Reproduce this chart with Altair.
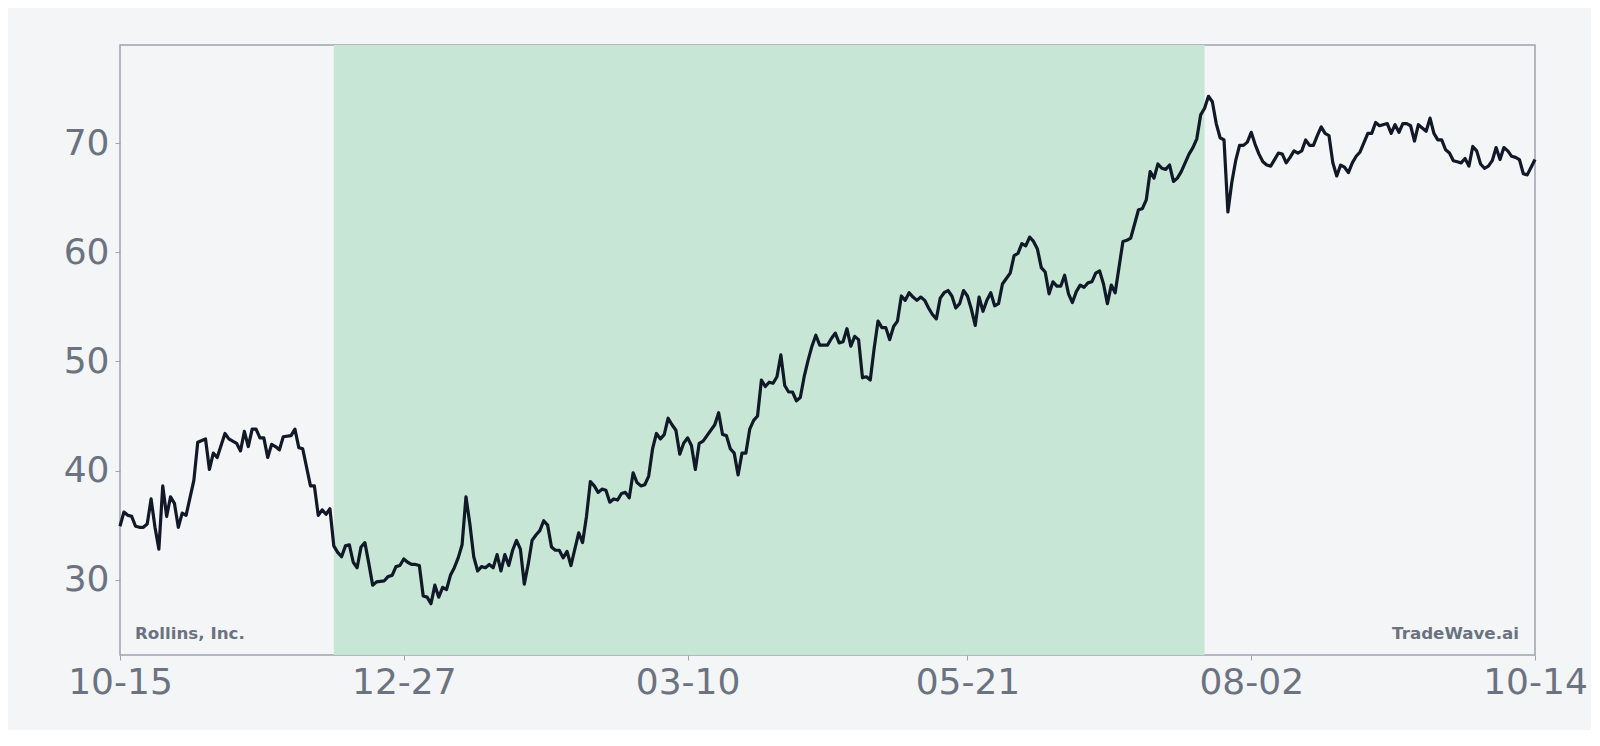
import altair as alt
import pandas as pd

# ---------------- data ----------------
start_date = "2024-10-15"
end_date = "2025-10-14"

day_offsets = [
    0, 1, 2, 3, 4, 5, 6, 7, 8, 9, 10, 11, 12, 13, 14, 15, 16, 17, 19, 20,
    22, 23, 24, 25, 27, 28, 30, 31, 32, 33, 34, 35, 36, 37, 38, 39, 40, 41, 42, 44,
    45, 46, 47, 49, 50, 51, 52, 53, 54, 55, 56, 57, 58, 59, 60, 61, 62, 63, 64, 65,
    66, 68, 69, 70, 71, 72, 73, 74, 75, 76, 77, 78, 79, 80, 81, 82, 83, 84, 85, 86,
    87, 88, 89, 90, 91, 92, 93, 94, 95, 96, 97, 98, 99, 100, 101, 102, 103, 104, 105, 106,
    107, 108, 109, 110, 111, 112, 113, 114, 115, 116, 117, 118, 119, 120, 121, 122, 123, 124, 125, 126,
    127, 128, 129, 130, 131, 132, 133, 134, 135, 136, 137, 138, 139, 140, 141, 142, 143, 144, 145, 146,
    147, 148, 149, 150, 151, 153, 154, 155, 156, 157, 158, 159, 160, 161, 162, 163, 164, 165, 166, 167,
    168, 169, 170, 171, 172, 173, 174, 175, 176, 177, 178, 179, 180, 181, 182, 183, 184, 185, 186, 187,
    188, 189, 190, 191, 192, 193, 194, 195, 196, 197, 198, 199, 200, 201, 202, 203, 204, 205, 206, 207,
    208, 209, 210, 211, 212, 213, 214, 215, 216, 217, 218, 219, 220, 221, 222, 223, 224, 225, 226, 227,
    228, 229, 230, 231, 232, 233, 234, 235, 236, 237, 238, 239, 240, 241, 242, 243, 244, 245, 246, 247,
    248, 249, 250, 251, 252, 253, 254, 255, 256, 258, 259, 260, 261, 262, 263, 264, 265, 266, 267, 268,
    269, 270, 271, 272, 273, 274, 275, 276, 277, 278, 279, 280, 281, 282, 283, 284, 285, 286, 287, 288,
    289, 290, 291, 292, 293, 294, 295, 296, 297, 298, 299, 300, 301, 302, 303, 304, 305, 306, 307, 308,
    309, 310, 311, 312, 313, 314, 315, 316, 317, 318, 319, 321, 322, 323, 324, 326, 327, 328, 329, 330,
    331, 332, 333, 334, 335, 336, 337, 338, 339, 340, 341, 342, 343, 344, 345, 346, 347, 348, 349, 350,
    351, 352, 353, 354, 355, 356, 357, 358, 359, 360, 361, 362, 363, 364,
]

prices = [
    34.9, 36.2, 35.9, 35.8, 34.9, 34.8, 34.8, 35.1, 37.4, 34.8, 32.8, 38.6, 35.8, 37.6, 37.0, 34.8, 36.1, 35.9, 39.1, 42.6,
    42.9, 40.1, 41.6, 41.2, 43.4, 42.9, 42.5, 41.8, 43.6, 42.2, 43.8, 43.8, 43.0, 43.0, 41.2, 42.4, 42.2, 41.9, 43.1, 43.2,
    43.8, 42.1, 42.0, 38.6, 38.6, 35.9, 36.4, 36.0, 36.5, 33.1, 32.5, 32.1, 33.1, 33.2, 31.6, 31.1, 33.0, 33.4, 31.5, 29.5,
    29.8, 29.9, 30.3, 30.4, 31.2, 31.3, 31.9, 31.6, 31.4, 31.4, 31.3, 28.5, 28.4, 27.8, 29.5, 28.4, 29.3, 29.1, 30.4, 31.1,
    32.0, 33.2, 37.6, 35.1, 32.1, 30.8, 31.2, 31.1, 31.4, 31.1, 32.3, 30.8, 32.3, 31.3, 32.7, 33.6, 32.8, 29.6, 31.4, 33.6,
    34.1, 34.5, 35.4, 35.0, 33.0, 32.7, 32.7, 32.0, 32.6, 31.3, 32.8, 34.3, 33.4, 35.8, 39.0, 38.6, 38.0, 38.3, 38.2, 37.1,
    37.4, 37.3, 37.9, 38.0, 37.5, 39.8, 38.9, 38.6, 38.7, 39.5, 42.0, 43.4, 42.9, 43.3, 44.8, 44.2, 43.7, 41.5, 42.5, 43.0,
    42.3, 40.1, 42.5, 42.7, 43.2, 44.2, 45.3, 43.3, 43.2, 42.0, 41.6, 39.6, 41.6, 41.6, 43.8, 44.6, 45.0, 48.3, 47.7, 48.1,
    48.0, 48.6, 50.6, 47.8, 47.2, 47.2, 46.4, 46.7, 48.6, 50.1, 51.4, 52.4, 51.5, 51.5, 51.5, 52.1, 52.6, 51.7, 51.8, 53.0,
    51.4, 52.3, 52.0, 48.5, 48.6, 48.3, 51.2, 53.7, 53.1, 53.1, 52.0, 53.2, 53.7, 56.0, 55.6, 56.3, 55.9, 55.6, 55.9, 55.6,
    54.9, 54.3, 53.9, 55.8, 56.3, 56.5, 56.0, 54.9, 55.3, 56.5, 56.0, 54.8, 53.3, 55.9, 54.6, 55.6, 56.3, 55.1, 55.3, 57.1,
    57.6, 58.1, 59.7, 59.9, 60.8, 60.6, 61.4, 61.0, 60.3, 58.6, 58.2, 56.2, 57.3, 56.9, 56.9, 57.9, 56.2, 55.4, 56.4, 57.0,
    56.8, 57.2, 57.3, 58.1, 58.3, 57.1, 55.3, 57.0, 56.3, 61.0, 61.1, 61.3, 62.6, 63.9, 64.0, 64.8, 67.4, 66.8, 68.1, 67.7,
    67.6, 68.0, 66.5, 66.8, 67.4, 68.2, 69.0, 69.6, 70.4, 72.6, 73.2, 74.3, 73.8, 71.8, 70.5, 70.3, 63.7, 66.4, 68.4, 69.8,
    69.8, 70.1, 71.0, 69.9, 69.0, 68.3, 68.0, 67.9, 68.5, 69.1, 69.0, 68.2, 68.7, 69.3, 69.1, 69.3, 70.3, 69.8, 69.8, 70.7,
    71.5, 70.9, 70.7, 68.2, 67.0, 68.0, 67.8, 67.3, 68.2, 68.8, 69.2, 70.9, 70.9, 71.9, 71.6, 71.8, 70.9, 71.7, 71.0, 71.8,
    71.8, 71.6, 70.2, 71.7, 71.4, 71.1, 72.3, 70.9, 70.3, 70.3, 69.4, 69.1, 68.4, 68.3, 68.2, 68.6, 67.9, 69.7, 69.3, 68.1,
    67.7, 67.9, 68.4, 69.6, 68.5, 69.6, 69.3, 68.8, 68.7, 68.5, 67.2, 67.1, 67.8, 68.5,
]

shade_start = ["2024-12-09"]
shade_end = ["2025-07-21"]

tick_dates = ["2024-10-15", "2024-12-27", "2025-03-10", "2025-05-21", "2025-08-02", "2025-10-14"]
y_ticks = [30, 40, 50, 60, 70]
y_domain = [23.1, 79.0]

company = "Rollins, Inc."
brand = "TradeWave.ai"

# ---------------- tables ----------------
dates = pd.Timestamp(start_date) + pd.to_timedelta(day_offsets, unit="D")
df = pd.DataFrame({"date": dates.strftime("%Y-%m-%d"), "price": prices})
shade_df = pd.DataFrame({"start": shade_start, "end": shade_end})


def dt(s):
    t = pd.Timestamp(s)
    return alt.DateTime(year=t.year, month=t.month, date=t.day, utc=True)


W, H = 1415, 610
GRAY = "#6b7280"
FONT = "DejaVu Sans"

x_scale = alt.Scale(type="utc", domain=[dt(start_date), dt(end_date)], nice=False)
x_axis = alt.Axis(
    title=None, values=[dt(s) for s in tick_dates], format="%m-%d",
    labelFontSize=36, labelColor=GRAY, labelFont=FONT, labelPadding=5,
    tickSize=5, tickColor="#9ca3af", domain=False, grid=False,
    labelOverlap=False, labelFlush=False,
)
y_axis = alt.Axis(
    title=None, values=y_ticks, labelFontSize=36, labelColor=GRAY, labelFont=FONT,
    labelPadding=6, tickSize=5, tickColor="#9ca3af", domain=False, grid=False,
)

shade = alt.Chart(shade_df).mark_rect(color="#c8e6d5").encode(
    x=alt.X("start:T", scale=x_scale, axis=x_axis),
    x2="end:T",
)

line = alt.Chart(df).mark_line(color="#111827", strokeWidth=3.2, strokeJoin="round").encode(
    x=alt.X("date:T", scale=x_scale, axis=x_axis),
    y=alt.Y("price:Q", scale=alt.Scale(domain=y_domain, nice=False, zero=False), axis=y_axis),
)

left_text = alt.Chart(pd.DataFrame({"label": [company]})).mark_text(
    align="left", baseline="alphabetic", fontSize=16.7, fontWeight="bold", color=GRAY, font=FONT
).encode(x=alt.value(15), y=alt.value(H - 16), text="label:N")

right_text = alt.Chart(pd.DataFrame({"label": [brand]})).mark_text(
    align="right", baseline="alphabetic", fontSize=16.7, fontWeight="bold", color=GRAY, font=FONT
).encode(x=alt.value(W - 16), y=alt.value(H - 16), text="label:N")

chart = (
    alt.layer(shade, line, left_text, right_text)
    .properties(
        width=W, height=H, background="#f4f5f7",
        autosize=alt.AutoSizeParams(type="none"),
        padding={"left": 112, "top": 37, "right": 56, "bottom": 75},
    )
    .configure_view(stroke="#9ca3af", strokeWidth=1.5, fill="#f4f5f7")
)

chart.save("out.html", embed_options={"renderer": "svg", "actions": False})
